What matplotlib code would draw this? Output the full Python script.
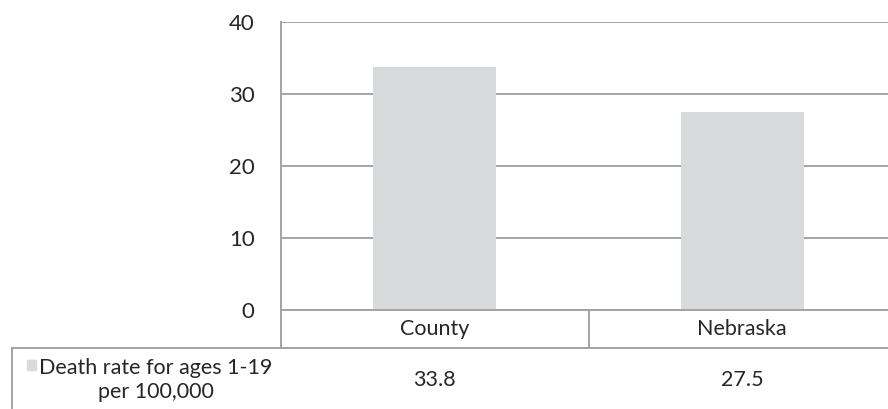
import matplotlib.pyplot as plt
from matplotlib import transforms
from matplotlib.patches import Rectangle

plt.rcParams["font.family"] = ["Lato", "DejaVu Sans"]

# data
categories = ["County", "Nebraska"]
death_rate = [33.8, 27.5]
series_name = "Death rate for ages 1-19\nper 100,000"
y_ticks = [0, 10, 20, 30, 40]

bar_color = "#d9dadc"
line_color = "#a3a3a5"
text_color = "#262626"

W, H = 888, 409
fig = plt.figure(figsize=(W / 100, H / 100), dpi=100)

# plot area in pixel terms
left, right, top, bottom = 281, 896, 22, 310
ax = fig.add_axes([left / W, 1 - bottom / H, (right - left) / W, (bottom - top) / H])

x = range(len(categories))
ax.bar(x, death_rate, width=0.4, color=bar_color, zorder=2)
ax.set_xlim(-0.5, len(categories) - 0.5)
ax.set_ylim(0, 40)
ax.set_yticks(y_ticks)
ax.set_xticks([])
ax.tick_params(axis="y", length=0, pad=19, labelsize=16, labelcolor=text_color)
ax.yaxis.grid(True, color=line_color, linewidth=1.4, zorder=1)
for s in ["top", "right"]:
    ax.spines[s].set_visible(False)
for s in ["left", "bottom"]:
    ax.spines[s].set_color(line_color)
    ax.spines[s].set_linewidth(1.4)

# data table below the axis
ax_h = bottom - top
row1 = -38 / ax_h
row2 = -70.5 / ax_h
trans = transforms.blended_transform_factory(ax.transData, ax.transAxes)

for b in [i - 0.5 for i in range(len(categories) + 1)]:
    ax.plot([b, b], [0, row1], transform=trans, color=line_color,
            linewidth=1.4, clip_on=False)

for i, (cat, val) in enumerate(zip(categories, death_rate)):
    ax.text(i, row1 / 2, cat, transform=trans, ha="center", va="center",
            fontsize=15.5, color=text_color)
    ax.text(i, row2, f"{val:.1f}", transform=trans, ha="center", va="center",
            fontsize=15.5, color=text_color)

# row line and left border of the series row
fig.add_artist(plt.Line2D([12 / W, 1], [1 - 348 / H] * 2, color=line_color,
                          linewidth=1.4))
fig.add_artist(plt.Line2D([12 / W, 12 / W], [1 - 348 / H, 0], color=line_color,
                          linewidth=1.4))

# legend key and series name
fig.add_artist(Rectangle((27 / W, 1 - 370 / H), 9 / W, 10 / H,
                         color=bar_color, transform=fig.transFigure))
fig.text(156 / W, 1 - 380 / H, series_name, ha="center", va="center",
         fontsize=15.5, color=text_color, linespacing=1.3)

fig.savefig("out.png", dpi=100)
